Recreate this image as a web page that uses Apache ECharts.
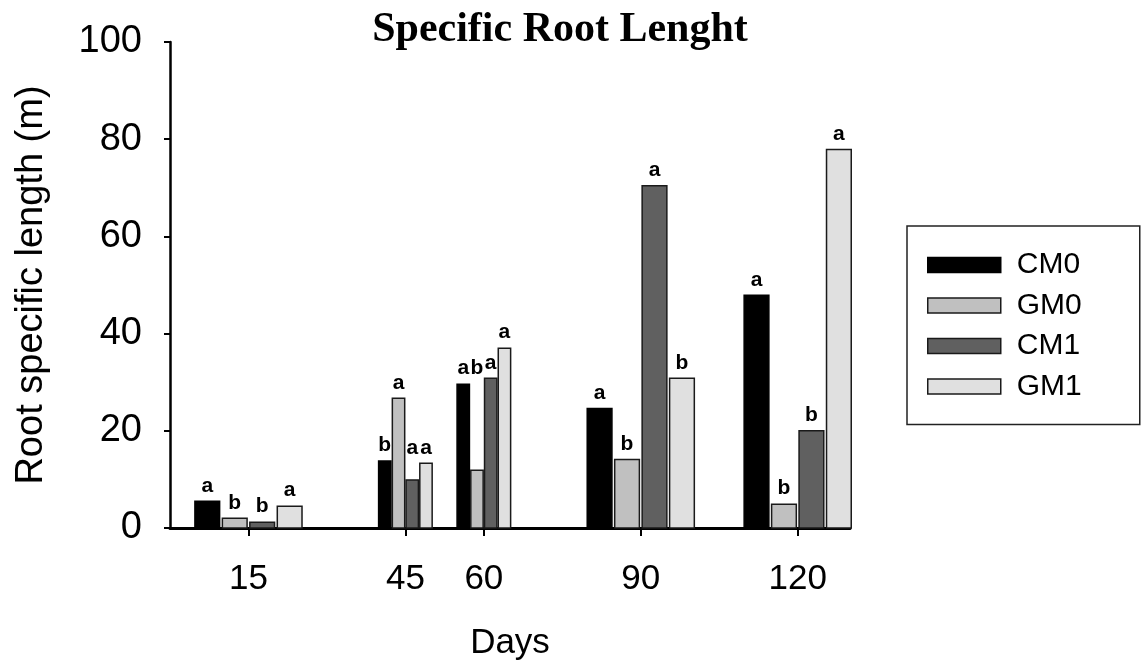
<!DOCTYPE html>
<html><head><meta charset="utf-8">
<script src="https://cdn.jsdelivr.net/npm/echarts@6/dist/echarts.min.js"></script>
<style>html,body{margin:0;padding:0;background:#fff}#c{width:1144px;height:669px}</style>
</head><body><div id="c"></div>
<script>
const days = [15, 45, 60, 90, 120];
const seriesNames = ['CM0', 'GM0', 'CM1', 'GM1'];
const CM0 = [5.5, 13.8, 29.6, 24.6, 47.9];
const GM0 = [2.0, 26.7, 11.9, 14.1, 4.9];
const CM1 = [1.2, 9.9, 30.8, 70.4, 20.0];
const GM1 = [4.5, 13.3, 37.0, 30.8, 77.9];
const CM0_sig = ['a', 'b', 'a', 'a', 'a'];
const GM0_sig = ['b', 'a', 'b', 'b', 'b'];
const CM1_sig = ['b', 'a', 'a', 'a', 'b'];
const GM1_sig = ['a', 'a', 'a', 'b', 'a'];
const yTicks = [0, 20, 40, 60, 80, 100];

const values = [CM0, GM0, CM1, GM1];
const sigs = [CM0_sig, GM0_sig, CM1_sig, GM1_sig];
const fills = ['#000000', '#c0c0c0', '#606060', '#e0e0e0'];
const strokes = ['#000000', '#1a1a1a', '#1a1a1a', '#1a1a1a'];
const SANS = '"Liberation Sans", Arial, sans-serif';

function slotDays(d) {
  let g = Infinity;
  days.forEach(o => { if (o !== d) g = Math.min(g, Math.abs(o - d)); });
  return Math.min(5.25, 0.175 * g);
}
// In crowded groups, a bar lower than both neighbours carries its letter
// at the lower neighbour's height so letters do not collide.
function labelValue(k, i) {
  const v = values[k][i];
  if (slotDays(days[i]) >= 5 || k === 0 || k === values.length - 1) return v;
  const l = values[k - 1][i], r = values[k + 1][i];
  if (v < l && v < r) return Math.min(l, r);
  return v;
}
function makeRender(k) {
  return function (params, api) {
    const d = api.value(0), v = api.value(1);
    const base = api.coord([d, 0]);
    const top = api.coord([d, v]);
    const lab = api.coord([d, labelValue(k, params.dataIndex)]);
    const slot = api.size([slotDays(d), 0])[0];
    const w = slot * 0.9;
    const cx = base[0] + (k - 1.5) * slot;
    return {
      type: 'group',
      children: [{
        type: 'rect',
        shape: { x: cx - w / 2, y: top[1], width: w, height: base[1] - top[1] },
        style: { fill: fills[k], stroke: strokes[k], lineWidth: 1.5 }
      }, {
        type: 'text',
        x: cx, y: lab[1] - 5,
        style: { text: sigs[k][params.dataIndex], font: 'bold 21px ' + SANS, fill: '#000', align: 'center', verticalAlign: 'bottom' }
      }]
    };
  };
}

const chart = echarts.init(document.getElementById('c'), null, { renderer: 'canvas' });
chart.setOption({
  animation: false,
  backgroundColor: '#fff',
  title: {
    text: 'Specific Root Lenght',
    left: 555, top: 4, textAlign: 'center',
    textStyle: { fontFamily: '"Liberation Serif", "Times New Roman", serif', fontWeight: 'bold', fontSize: 42, color: '#000' }
  },
  legend: {
    orient: 'vertical', left: 907, top: 226,
    padding: [24, 58, 23, 20],
    itemGap: 10.5, itemWidth: 73, itemHeight: 15,
    borderColor: '#222', borderWidth: 1.5,
    icon: 'rect',
    textStyle: { fontFamily: SANS, fontSize: 30, color: '#000', padding: [0, 0, 0, 11] },
    data: seriesNames.map((n, k) => ({ name: n, itemStyle: { color: fills[k], borderColor: strokes[k], borderWidth: 1.5 } }))
  },
  grid: { left: 170, right: 294, top: 42, bottom: 141, containLabel: false, outerBoundsMode: 'none' },
  xAxis: {
    type: 'value', min: 0, max: 130,
    name: 'Days', nameLocation: 'middle', nameGap: 98,
    nameTextStyle: { fontFamily: SANS, fontSize: 35, color: '#000' },
    axisLine: { show: true, lineStyle: { color: '#000', width: 3 } },
    axisTick: { show: true, length: 8, lineStyle: { color: '#000', width: 2 }, customValues: days },
    axisLabel: { fontFamily: SANS, fontSize: 35, color: '#000', margin: 34, customValues: days },
    splitLine: { show: false }
  },
  yAxis: {
    type: 'value', min: 0, max: 100, interval: 20,
    name: 'Root specific length (m)', nameLocation: 'middle', nameGap: 119,
    nameTextStyle: { fontFamily: SANS, fontSize: 38, color: '#000' },
    axisLine: { show: true, lineStyle: { color: '#000', width: 2.5 } },
    axisTick: { show: true, length: 6, lineStyle: { color: '#000', width: 2 } },
    axisLabel: { fontFamily: SANS, fontSize: 38, color: '#000', margin: 28, customValues: yTicks },
    splitLine: { show: false }
  },
  series: seriesNames.map((n, k) => ({
    name: n, type: 'custom', clip: false,
    itemStyle: { color: fills[k], borderColor: strokes[k] },
    encode: { x: 0, y: 1 },
    renderItem: makeRender(k),
    data: days.map((d, i) => [d, values[k][i]])
  }))
});
</script></body></html>
